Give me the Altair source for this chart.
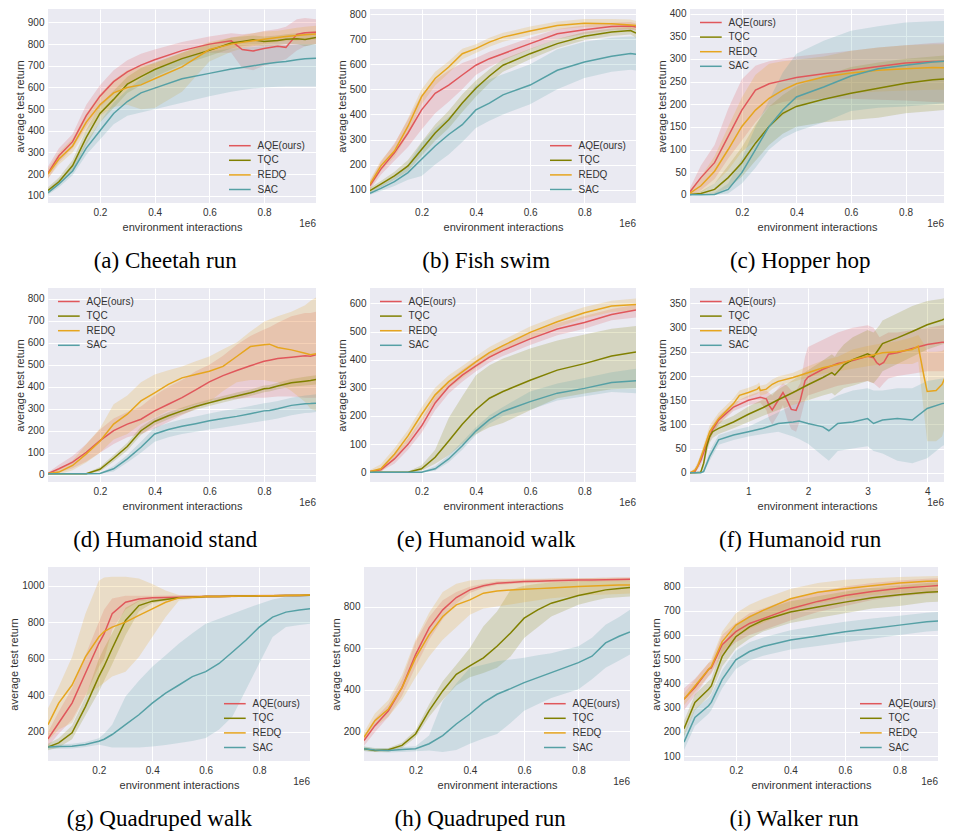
import altair as alt
import pandas as pd

SERIES = ["AQE(ours)", "TQC", "REDQ", "SAC"]
COLORS = ["#E0575B", "#808000", "#E6A51E", "#55A0A5"]

# ---------------- (a) Cheetah run ----------------
cheetah_x = [0.01, 0.05, 0.1, 0.15, 0.2, 0.25, 0.3, 0.35, 0.4, 0.5, 0.6, 0.68, 0.72, 0.76, 0.8, 0.85, 0.88, 0.92, 0.95, 0.99]
cheetah_mean = {
    "AQE(ours)": [205, 285, 350, 470, 560, 627, 672, 703, 728, 770, 800, 815, 775, 768, 780, 790, 785, 845, 852, 855],
    "TQC": [125, 165, 240, 370, 480, 545, 615, 650, 683, 733, 771, 805, 812, 820, 812, 817, 822, 825, 821, 830],
    "REDQ": [200, 270, 330, 440, 520, 575, 600, 612, 640, 695, 775, 800, 808, 815, 822, 830, 835, 840, 843, 847],
    "SAC": [115, 155, 215, 320, 400, 480, 535, 575, 597, 640, 665, 685, 692, 700, 708, 716, 720, 728, 732, 735],
}
cheetah_lo = {
    "AQE(ours)": [180, 255, 320, 420, 510, 570, 620, 655, 690, 730, 760, 760, 690, 680, 700, 720, 730, 770, 790, 800],
    "TQC": [110, 150, 215, 335, 440, 505, 575, 610, 650, 705, 745, 780, 790, 795, 790, 795, 800, 800, 790, 800],
    "REDQ": [180, 245, 300, 400, 470, 510, 520, 500, 505, 580, 720, 765, 780, 790, 800, 810, 815, 815, 820, 820],
    "SAC": [105, 140, 195, 290, 360, 430, 470, 485, 500, 530, 560, 580, 588, 595, 600, 603, 605, 605, 605, 605],
}
cheetah_hi = {
    "AQE(ours)": [235, 320, 385, 520, 610, 680, 725, 755, 775, 810, 835, 850, 845, 850, 860, 870, 880, 915, 920, 915],
    "TQC": [140, 185, 265, 405, 520, 585, 650, 690, 715, 760, 800, 830, 835, 840, 835, 840, 845, 850, 855, 860],
    "REDQ": [225, 300, 365, 480, 570, 635, 680, 700, 710, 760, 810, 830, 840, 850, 858, 862, 868, 875, 880, 885],
    "SAC": [130, 175, 240, 350, 440, 530, 590, 640, 680, 730, 765, 780, 783, 787, 790, 795, 795, 800, 800, 800],
}

# ---------------- (b) Fish swim ----------------
fish_x = [0.01, 0.05, 0.1, 0.15, 0.2, 0.25, 0.3, 0.35, 0.4, 0.45, 0.5, 0.6, 0.7, 0.8, 0.9, 0.97, 0.99]
fish_mean = {
    "AQE(ours)": [116, 182, 247, 326, 418, 484, 517, 557, 596, 622, 642, 682, 721, 737, 750, 752, 748],
    "TQC": [96, 122, 155, 195, 260, 326, 379, 445, 504, 553, 596, 642, 682, 711, 728, 734, 724],
    "REDQ": [122, 195, 254, 353, 471, 543, 589, 642, 662, 688, 708, 732, 754, 763, 761, 756, 754],
    "SAC": [86, 105, 132, 168, 221, 274, 320, 359, 418, 445, 478, 517, 576, 609, 632, 643, 640],
}
fish_lo = {
    "AQE(ours)": [100, 160, 215, 270, 340, 405, 450, 500, 557, 590, 615, 660, 700, 720, 735, 738, 735],
    "TQC": [85, 110, 140, 175, 235, 295, 345, 410, 470, 525, 570, 620, 665, 695, 712, 718, 705],
    "REDQ": [105, 175, 230, 320, 440, 515, 565, 620, 645, 670, 690, 715, 738, 748, 745, 740, 738],
    "SAC": [80, 95, 115, 140, 155, 200, 240, 290, 346, 375, 400, 440, 500, 545, 570, 578, 575],
}
fish_hi = {
    "AQE(ours)": [135, 210, 285, 380, 478, 537, 575, 605, 625, 650, 668, 705, 740, 755, 765, 768, 762],
    "TQC": [108, 135, 172, 218, 290, 360, 415, 480, 535, 580, 620, 662, 700, 728, 742, 748, 740],
    "REDQ": [140, 215, 280, 385, 500, 570, 612, 662, 680, 705, 725, 750, 770, 780, 780, 778, 772],
    "SAC": [95, 118, 150, 200, 287, 345, 390, 440, 517, 540, 560, 600, 660, 690, 705, 710, 708],
}

# ---------------- (c) Hopper hop ----------------
hopper_x = [0.01, 0.05, 0.1, 0.15, 0.2, 0.25, 0.3, 0.35, 0.4, 0.5, 0.6, 0.7, 0.8, 0.9, 0.99]
hopper_mean = {
    "AQE(ours)": [7, 38, 71, 129, 187, 231, 245, 252, 259, 267, 275, 283, 291, 294, 295],
    "TQC": [1, 3, 12, 38, 71, 114, 151, 180, 195, 211, 224, 235, 246, 254, 257],
    "REDQ": [4, 20, 52, 100, 151, 187, 213, 231, 245, 260, 269, 275, 278, 281, 280],
    "SAC": [0, 0, 1, 12, 49, 100, 151, 187, 216, 238, 262, 278, 286, 293, 297],
}
hopper_lo = {
    "AQE(ours)": [0, 10, 35, 80, 120, 160, 195, 205, 210, 212, 212, 210, 208, 205, 202],
    "TQC": [0, 0, 2, 15, 40, 75, 110, 135, 150, 160, 165, 170, 180, 185, 190],
    "REDQ": [0, 5, 25, 55, 95, 120, 150, 175, 195, 215, 224, 228, 230, 232, 232],
    "SAC": [0, 0, 0, 3, 25, 60, 100, 125, 140, 160, 185, 192, 195, 200, 205],
}
hopper_hi = {
    "AQE(ours)": [15, 65, 110, 190, 255, 285, 295, 300, 305, 312, 318, 325, 330, 335, 338],
    "TQC": [3, 8, 25, 65, 105, 155, 195, 220, 240, 262, 282, 292, 300, 305, 310],
    "REDQ": [10, 40, 85, 150, 215, 265, 289, 295, 298, 305, 318, 325, 330, 332, 332],
    "SAC": [1, 2, 5, 25, 80, 150, 209, 270, 311, 340, 362, 372, 380, 383, 384],
}

# ---------------- (d) Humanoid stand ----------------
hstand_x = [0.01, 0.05, 0.1, 0.15, 0.2, 0.25, 0.3, 0.35, 0.4, 0.45, 0.5, 0.55, 0.6, 0.65, 0.7, 0.75, 0.8, 0.82, 0.85, 0.9, 0.95, 0.97, 0.99]
hstand_mean = {
    "AQE(ours)": [5, 27, 57, 102, 155, 200, 230, 252, 290, 320, 350, 385, 422, 450, 473, 495, 515, 520, 528, 534, 540, 538, 545],
    "TQC": [5, 5, 5, 5, 25, 75, 128, 200, 242, 268, 290, 310, 327, 343, 358, 372, 390, 393, 403, 418, 425, 428, 432],
    "REDQ": [5, 12, 42, 95, 152, 230, 275, 335, 372, 410, 440, 455, 470, 492, 537, 582, 590, 593, 578, 567, 552, 545, 549],
    "SAC": [5, 5, 5, 5, 6, 27, 72, 125, 185, 205, 220, 232, 245, 255, 265, 277, 290, 292, 300, 315, 322, 323, 325],
}
hstand_lo = {
    "AQE(ours)": [0, 10, 30, 60, 100, 140, 170, 185, 210, 240, 270, 300, 335, 340, 345, 350, 350, 352, 355, 355, 350, 350, 350],
    "TQC": [3, 3, 3, 3, 15, 60, 110, 180, 225, 252, 275, 295, 312, 328, 343, 357, 375, 378, 388, 400, 405, 408, 410],
    "REDQ": [0, 2, 20, 55, 100, 160, 185, 230, 260, 290, 300, 320, 330, 380, 420, 430, 430, 425, 420, 380, 330, 300, 290],
    "SAC": [3, 3, 3, 3, 4, 15, 55, 100, 150, 170, 185, 195, 205, 215, 225, 235, 245, 248, 255, 270, 280, 282, 285],
}
hstand_hi = {
    "AQE(ours)": [10, 45, 85, 140, 205, 255, 285, 310, 360, 400, 430, 470, 500, 540, 590, 630, 660, 670, 690, 720, 735, 735, 740],
    "TQC": [7, 7, 7, 8, 35, 90, 145, 218, 258, 284, 305, 325, 342, 358, 373, 387, 405, 408, 418, 435, 445, 448, 452],
    "REDQ": [10, 25, 65, 140, 210, 320, 360, 420, 455, 475, 492, 515, 537, 570, 600, 650, 695, 705, 720, 740, 770, 790, 805],
    "SAC": [7, 7, 7, 7, 8, 40, 90, 150, 215, 235, 252, 265, 278, 290, 300, 312, 325, 328, 335, 350, 360, 362, 365],
}

# ---------------- (e) Humanoid walk ----------------
hwalk_x = [0.01, 0.05, 0.1, 0.15, 0.2, 0.25, 0.3, 0.35, 0.4, 0.45, 0.5, 0.6, 0.7, 0.8, 0.9, 0.99]
hwalk_mean = {
    "AQE(ours)": [2, 8, 47, 99, 164, 246, 304, 345, 378, 409, 433, 474, 509, 532, 561, 577],
    "TQC": [0, 0, 0, 0, 12, 53, 111, 170, 222, 263, 287, 327, 363, 386, 413, 427],
    "REDQ": [2, 12, 64, 129, 205, 275, 322, 357, 392, 425, 450, 497, 535, 567, 591, 596],
    "SAC": [0, 0, 0, 0, 0, 12, 47, 94, 146, 187, 216, 251, 281, 298, 319, 325],
}
hwalk_lo = {
    "AQE(ours)": [0, 3, 30, 80, 140, 220, 280, 322, 358, 390, 413, 452, 487, 510, 540, 550],
    "TQC": [0, 0, 0, 0, 5, 30, 60, 100, 135, 160, 175, 220, 263, 280, 295, 298],
    "REDQ": [0, 0, 45, 105, 180, 250, 298, 335, 370, 405, 430, 475, 515, 547, 570, 575],
    "SAC": [0, 0, 0, 0, 0, 5, 35, 80, 132, 172, 200, 222, 255, 270, 285, 281],
}
hwalk_hi = {
    "AQE(ours)": [5, 15, 65, 120, 188, 270, 325, 365, 398, 428, 452, 495, 530, 555, 580, 595],
    "TQC": [1, 1, 1, 2, 25, 80, 193, 270, 345, 380, 404, 440, 468, 490, 510, 520],
    "REDQ": [8, 28, 85, 150, 230, 300, 345, 378, 412, 445, 470, 518, 555, 587, 610, 618],
    "SAC": [1, 1, 1, 1, 2, 22, 60, 108, 160, 202, 232, 287, 315, 335, 355, 368],
}

# ---------------- (f) Humanoid run (x in 1e6, per-series sampling) ----------------
hrun_x = {
    "AQE(ours)": [0.02, 0.1, 0.2, 0.3, 0.4, 0.5, 0.75, 1.0, 1.2, 1.3, 1.35, 1.4, 1.5, 1.58, 1.65, 1.72, 1.8, 1.87, 1.95, 2.0,
                  2.25, 2.5, 2.75, 3.0, 3.1, 3.15, 3.2, 3.27, 3.35, 3.5, 3.75, 4.0, 4.25, 4.5],
    "TQC": [0.02, 0.1, 0.2, 0.25, 0.3, 0.35, 0.4, 0.5, 0.75, 1.0, 1.25, 1.5, 1.75, 2.0, 2.25, 2.4, 2.45, 2.5, 2.6, 2.75,
            3.0, 3.1, 3.2, 3.25, 3.5, 3.75, 4.0, 4.25, 4.4, 4.5],
    "REDQ": [0.02, 0.1, 0.15, 0.25, 0.35, 0.5, 0.75, 0.85, 1.0, 1.15, 1.18, 1.2, 1.3, 1.4, 1.5, 1.75, 2.0, 2.25, 2.5, 2.75,
             3.0, 3.25, 3.5, 3.75, 3.85, 3.95, 4.0, 4.15, 4.25, 4.35, 4.5],
    "SAC": [0.02, 0.2, 0.25, 0.35, 0.5, 0.75, 1.0, 1.25, 1.5, 1.75, 1.85, 2.0, 2.25, 2.35, 2.5, 2.75, 3.0, 3.1, 3.25, 3.5,
            3.75, 4.0, 4.25, 4.5],
}
hrun_mean = {
    "AQE(ours)": [0, 2, 25, 60, 90, 109, 136, 150, 156, 153, 139, 130, 150, 166, 150, 131, 129, 150, 190, 198,
                  214, 226, 232, 241, 238, 228, 223, 228, 245, 248, 257, 265, 270, 270],
    "TQC": [0, 0, 1, 20, 54, 75, 85, 92, 105, 121, 135, 151, 166, 182, 197, 207, 202, 209, 223, 234,
            246, 240, 258, 267, 279, 292, 306, 316, 324, 321],
    "REDQ": [0, 5, 14, 48, 85, 112, 143, 160, 166, 173, 177, 170, 173, 183, 189, 197, 207, 217, 224, 234,
             241, 248, 250, 255, 262, 197, 168, 170, 183, 211, 215],
    "SAC": [0, 0, 3, 34, 68, 78, 85, 92, 102, 105, 107, 102, 95, 87, 102, 105, 112, 102, 109, 112,
            109, 133, 143, 150],
}
hrun_lo = {
    "AQE(ours)": [0, 0, 15, 50, 80, 100, 128, 140, 145, 130, 110, 100, 120, 140, 110, 90, 85, 110, 150, 160,
                  170, 180, 185, 190, 185, 180, 175, 185, 195, 200, 205, 210, 210, 210],
    "TQC": [0, 0, 0, 10, 40, 62, 72, 80, 92, 105, 118, 130, 140, 150, 160, 165, 160, 165, 175, 180,
            190, 185, 200, 210, 225, 240, 255, 265, 270, 268],
    "REDQ": [0, 0, 8, 38, 72, 100, 132, 150, 156, 163, 167, 160, 163, 173, 180, 188, 197, 205, 210, 215,
             220, 225, 225, 225, 230, 120, 65, 65, 75, 120, 150],
    "SAC": [0, 0, 0, 25, 58, 68, 75, 80, 85, 75, 70, 60, 35, 25, 45, 50, 55, 45, 40, 25,
            20, 30, 55, 70],
}
hrun_hi = {
    "AQE(ours)": [2, 8, 35, 72, 100, 118, 145, 160, 168, 170, 165, 160, 175, 185, 180, 170, 170, 185, 240, 260,
                  275, 290, 300, 305, 300, 290, 280, 285, 290, 290, 295, 300, 305, 305],
    "TQC": [0, 1, 3, 30, 66, 88, 98, 104, 118, 137, 152, 172, 192, 212, 232, 245, 240, 250, 265, 280,
            295, 290, 305, 315, 330, 345, 355, 360, 365, 362],
    "REDQ": [1, 10, 22, 58, 98, 124, 154, 170, 176, 183, 187, 180, 183, 193, 199, 207, 220, 232, 240, 255,
             262, 268, 272, 280, 285, 265, 250, 250, 252, 260, 265],
    "SAC": [0, 1, 8, 45, 78, 88, 95, 110, 125, 140, 145, 150, 150, 150, 160, 170, 175, 170, 170, 175,
            175, 190, 195, 200],
}

# ---------------- (g) Quadruped walk ----------------
qwalk_x = [0.01, 0.05, 0.1, 0.15, 0.2, 0.22, 0.25, 0.3, 0.35, 0.4, 0.45, 0.5, 0.55, 0.6, 0.65, 0.7, 0.75, 0.8, 0.85, 0.9, 0.95, 0.99]
qwalk_mean = {
    "AQE(ours)": [162, 249, 358, 521, 684, 738, 847, 910, 928, 934, 936, 937, 939, 941, 942, 943, 944, 945, 946, 947, 947, 948],
    "TQC": [118, 140, 195, 339, 503, 560, 657, 810, 892, 916, 925, 934, 937, 941, 942, 943, 944, 945, 946, 947, 947, 948],
    "REDQ": [240, 358, 457, 611, 720, 750, 774, 801, 838, 874, 910, 934, 937, 941, 942, 943, 944, 945, 946, 947, 948, 950],
    "SAC": [118, 120, 122, 131, 149, 160, 186, 240, 294, 358, 412, 457, 503, 530, 575, 638, 702, 774, 829, 856, 868, 874],
}
qwalk_lo = {
    "AQE(ours)": [120, 190, 267, 400, 557, 600, 760, 870, 915, 925, 928, 930, 932, 935, 937, 938, 940, 941, 942, 943, 943, 944],
    "TQC": [100, 115, 160, 290, 420, 480, 570, 730, 860, 905, 918, 928, 932, 936, 938, 939, 940, 941, 942, 943, 943, 944],
    "REDQ": [150, 213, 249, 394, 448, 470, 503, 530, 611, 720, 829, 920, 928, 934, 936, 938, 940, 941, 942, 943, 944, 945],
    "SAC": [105, 108, 110, 117, 130, 125, 115, 115, 115, 120, 128, 140, 150, 167, 213, 285, 430, 575, 720, 774, 785, 792],
}
qwalk_hi = {
    "AQE(ours)": [200, 310, 439, 620, 800, 870, 930, 945, 945, 946, 947, 948, 949, 950, 950, 951, 951, 952, 952, 953, 953, 953],
    "TQC": [135, 165, 235, 390, 600, 660, 740, 880, 920, 928, 932, 940, 942, 945, 946, 947, 948, 949, 950, 951, 952, 953],
    "REDQ": [330, 448, 611, 847, 1028, 1045, 1050, 1050, 1040, 1010, 975, 950, 948, 948, 948, 948, 949, 950, 951, 952, 953, 955],
    "SAC": [130, 132, 135, 145, 165, 190, 240, 394, 480, 557, 620, 684, 740, 792, 820, 847, 875, 901, 925, 940, 948, 952],
}

# ---------------- (h) Quadruped run ----------------
qrun_x = [0.01, 0.05, 0.1, 0.15, 0.2, 0.25, 0.3, 0.35, 0.4, 0.45, 0.5, 0.55, 0.6, 0.65, 0.7, 0.8, 0.85, 0.9, 0.95, 0.99]
qrun_mean = {
    "AQE(ours)": [155, 227, 299, 410, 569, 697, 784, 843, 880, 900, 912, 916, 920, 922, 924, 927, 928, 929, 930, 931],
    "TQC": [116, 108, 111, 132, 187, 299, 394, 474, 514, 553, 609, 673, 744, 784, 816, 853, 866, 880, 887, 892],
    "REDQ": [171, 251, 307, 410, 553, 665, 752, 808, 832, 864, 875, 879, 883, 886, 889, 896, 899, 901, 903, 904],
    "SAC": [116, 110, 108, 112, 116, 140, 179, 235, 283, 338, 378, 405, 434, 458, 482, 530, 561, 625, 657, 678],
}
qrun_lo = {
    "AQE(ours)": [130, 195, 270, 370, 510, 640, 740, 815, 865, 890, 903, 908, 912, 914, 916, 919, 920, 921, 922, 922],
    "TQC": [105, 100, 102, 120, 170, 270, 350, 420, 460, 480, 505, 560, 649, 700, 752, 808, 825, 840, 845, 848],
    "REDQ": [150, 220, 270, 350, 460, 560, 640, 700, 760, 790, 800, 810, 820, 830, 840, 850, 855, 858, 860, 862],
    "SAC": [105, 100, 98, 100, 104, 108, 100, 110, 140, 165, 187, 240, 299, 330, 360, 402, 450, 506, 540, 569],
}
qrun_hi = {
    "AQE(ours)": [180, 260, 330, 450, 630, 750, 830, 870, 895, 910, 921, 925, 929, 931, 933, 936, 937, 938, 939, 940],
    "TQC": [125, 118, 120, 145, 205, 330, 440, 520, 600, 705, 776, 880, 900, 910, 916, 922, 923, 924, 925, 925],
    "REDQ": [195, 285, 350, 470, 640, 770, 870, 910, 925, 930, 932, 932, 933, 934, 935, 936, 937, 938, 939, 940],
    "SAC": [128, 120, 118, 124, 128, 180, 346, 430, 505, 520, 537, 545, 553, 565, 575, 609, 650, 712, 750, 784],
}

# ---------------- (i) Walker run ----------------
walker_x = [0.01, 0.05, 0.1, 0.11, 0.15, 0.2, 0.25, 0.3, 0.4, 0.5, 0.6, 0.7, 0.8, 0.9, 0.99]
walker_mean = {
    "AQE(ours)": [335, 383, 458, 464, 560, 614, 648, 668, 709, 739, 763, 780, 793, 801, 808],
    "TQC": [213, 322, 376, 390, 512, 593, 634, 661, 695, 716, 736, 754, 766, 777, 780],
    "REDQ": [335, 390, 458, 470, 573, 641, 675, 702, 750, 777, 791, 804, 815, 822, 825],
    "SAC": [158, 260, 308, 322, 417, 498, 532, 553, 580, 596, 614, 627, 641, 655, 661],
}
walker_lo = {
    "AQE(ours)": [290, 350, 430, 440, 520, 570, 600, 620, 660, 695, 720, 745, 760, 770, 778],
    "TQC": [180, 290, 345, 360, 470, 545, 585, 615, 650, 670, 690, 710, 720, 735, 740],
    "REDQ": [310, 365, 430, 445, 530, 590, 625, 650, 700, 730, 750, 765, 775, 782, 785],
    "SAC": [125, 225, 275, 290, 380, 460, 495, 515, 540, 555, 570, 585, 600, 615, 620],
}
walker_hi = {
    "AQE(ours)": [380, 420, 485, 490, 600, 650, 690, 710, 750, 778, 800, 815, 825, 832, 838],
    "TQC": [245, 355, 410, 420, 555, 640, 680, 705, 740, 760, 780, 795, 805, 815, 820],
    "REDQ": [360, 415, 485, 500, 615, 690, 725, 750, 790, 815, 828, 835, 840, 843, 845],
    "SAC": [190, 295, 340, 355, 455, 535, 570, 590, 620, 638, 655, 668, 680, 692, 698],
}

STEP_TICKS = [0.2, 0.4, 0.6, 0.8]
RUN_TICKS = [1, 2, 3, 4]
H = 194
LEG_ROW = 14.6        # legend row spacing (px)
LEG_LINE = 21.7       # legend line length (px)


def build_df(xs, mean, lo, hi):
    rows = []
    for s in SERIES:
        xv = xs[s] if isinstance(xs, dict) else xs
        for x, m, l, u in zip(xv, mean[s], lo[s], hi[s]):
            rows.append({"x": x, "algo": s, "mean": m, "lo": l, "hi": u})
    return pd.DataFrame(rows)


def legend_layers(where, lx, h, cscale):
    n = len(SERIES)
    if where == "top-left":
        ys = [13.5 + LEG_ROW * k for k in range(n)]
    else:
        ys = [h - 13.5 - LEG_ROW * (n - 1 - k) for k in range(n)]
    ldf = pd.DataFrame({
        "algo": SERIES,
        "ly": ys,
        "lx0": [lx] * n,
        "lx1": [lx + LEG_LINE] * n,
        "tx": [lx + 28.5] * n,
    })
    rules = alt.Chart(ldf).mark_rule(strokeWidth=1.5).encode(
        x=alt.X("lx0:Q", scale=None),
        x2="lx1:Q",
        y=alt.Y("ly:Q", scale=None),
        stroke=alt.Stroke("algo:N", scale=cscale, legend=None),
    )
    texts = alt.Chart(ldf).mark_text(
        align="left", baseline="middle", fontSize=10, color="#333333", font="Liberation Sans"
    ).encode(
        x=alt.X("tx:Q", scale=None),
        y=alt.Y("ly:Q", scale=None),
        text="algo:N",
    )
    return [rules, texts]


def panel(df, xdom, xticks, xfmt, ydom, yticks, where, lx, caption, w, h=H):
    cscale = alt.Scale(domain=SERIES, range=COLORS)
    xsc = alt.Scale(domain=xdom, nice=False, zero=False)
    ysc = alt.Scale(domain=ydom, nice=False, zero=False)
    xax = alt.Axis(values=xticks, format=xfmt, title="environment interactions")
    yax = alt.Axis(values=yticks, format="d", title="average test return")
    band = alt.Chart(df).mark_area(opacity=0.2, clip=True).encode(
        x=alt.X("x:Q", scale=xsc, axis=xax),
        y=alt.Y("lo:Q", scale=ysc, axis=yax),
        y2="hi:Q",
        fill=alt.Fill("algo:N", scale=cscale, legend=None),
    )
    line = alt.Chart(df).mark_line(strokeWidth=1.5, clip=True).encode(
        x=alt.X("x:Q", scale=xsc, axis=xax),
        y=alt.Y("mean:Q", scale=ysc, axis=yax),
        stroke=alt.Stroke("algo:N", scale=cscale, legend=None),
    )
    tag = alt.Chart(pd.DataFrame({"t": ["1e6"]})).mark_text(
        align="right", baseline="middle", fontSize=10, color="#333333", font="Liberation Sans"
    ).encode(x=alt.value(w), y=alt.value(h + 21), text="t:N")
    layers = [band, line, tag] + legend_layers(where, lx, h, cscale)
    return alt.layer(*layers).properties(
        width=w,
        height=h,
        title=alt.TitleParams(
            text=caption, orient="bottom", anchor="middle", frame="bounds", offset=18,
            font="Liberation Serif", fontSize=23, fontWeight="normal", color="black",
        ),
    )


pa = panel(build_df(cheetah_x, cheetah_mean, cheetah_lo, cheetah_hi), [0.01, 0.99], STEP_TICKS, ".1f",
           [67, 962], list(range(100, 901, 100)), "bottom-right", 181, "(a) Cheetah run", 268)
pb = panel(build_df(fish_x, fish_mean, fish_lo, fish_hi), [0.01, 0.99], STEP_TICKS, ".1f",
           [47, 820], list(range(100, 801, 100)), "bottom-right", 180, "(b) Fish swim", 266)
pc = panel(build_df(hopper_x, hopper_mean, hopper_lo, hopper_hi), [0.01, 0.941], STEP_TICKS, ".1f",
           [-18, 410], list(range(0, 401, 50)), "top-left", 10, "(c) Hopper hop", 254)
pd_ = panel(build_df(hstand_x, hstand_mean, hstand_lo, hstand_hi), [0.01, 0.99], STEP_TICKS, ".1f",
            [-33, 848], list(range(0, 801, 100)), "top-left", 10, "(d) Humanoid stand", 268)
pe = panel(build_df(hwalk_x, hwalk_mean, hwalk_lo, hwalk_hi), [0.01, 0.99], STEP_TICKS, ".1f",
           [-35, 655], list(range(0, 601, 100)), "top-left", 10, "(e) Humanoid walk", 266)
pf = panel(build_df(hrun_x, hrun_mean, hrun_lo, hrun_hi), [0.02, 4.282], RUN_TICKS, "d",
           [-19, 382], list(range(0, 351, 50)), "top-left", 10, "(f) Humanoid run", 254)
pg = panel(build_df(qwalk_x, qwalk_mean, qwalk_lo, qwalk_hi), [0.01, 0.99], STEP_TICKS, ".1f",
           [41, 1103], list(range(200, 1001, 200)), "bottom-right", 176, "(g) Quadruped walk", 262)
ph = panel(build_df(qrun_x, qrun_mean, qrun_lo, qrun_hi), [0.01, 0.99], STEP_TICKS, ".1f",
           [57, 990], list(range(200, 801, 200)), "bottom-right", 180, "(h) Quadruped run", 266)
pi = panel(build_df(walker_x, walker_mean, walker_lo, walker_hi), [0.01, 0.941], STEP_TICKS, ".1f",
           [80, 881], list(range(100, 801, 100)), "bottom-right", 176, "(i) Walker run", 254)

row1 = alt.hconcat(pa, pb, pc, spacing=20).resolve_scale(stroke="independent", fill="independent")
row2 = alt.hconcat(pd_, pe, pf, spacing=20).resolve_scale(stroke="independent", fill="independent")
row3 = alt.hconcat(pg, ph, pi, spacing=20).resolve_scale(stroke="independent", fill="independent")

chart = (
    alt.vconcat(row1, row2, row3, spacing=15)
    .resolve_scale(stroke="independent", fill="independent")
    .properties(padding=0)
    .configure(font="Liberation Sans")
    .configure_view(fill="#EAEAF2", stroke=None)
    .configure_axis(
        grid=True, gridColor="white", gridWidth=1, gridOpacity=1,
        domain=False, ticks=False, tickSize=0,
        labelFontSize=10, titleFontSize=11, labelColor="#333333", titleColor="#333333",
        titleFontWeight="normal", labelFont="Liberation Sans", titleFont="Liberation Sans",
    )
    .configure_axisX(labelPadding=4, titlePadding=4)
    .configure_axisY(labelPadding=4, titlePadding=2)
)

chart.save("out.html", embed_options={"renderer": "svg", "actions": False})
